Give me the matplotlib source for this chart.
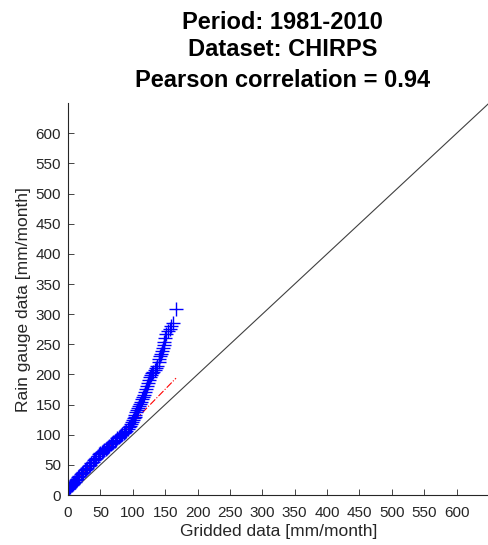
import numpy as np
import matplotlib.pyplot as plt

plt.rcParams['font.family'] = ['Liberation Sans', 'DejaVu Sans']

# quantiles (gridded vs rain gauge)
gridded = [0.0, 0.8, 1.7, 2.9, 3.8, 5.1, 6.0, 7.2, 8.1, 9.3, 10.4, 12.1, 13.8,
           15.9, 17.6, 19.8, 21.7, 23.9, 25.8, 28.1, 29.9, 32.2, 34.0, 36.1,
           37.9, 40.2, 42.1, 43.8, 46.0, 48.2, 50.1, 52.0, 53.9, 56.2, 58.0,
           60.1, 62.3, 64.0, 66.1, 68.0, 70.2, 72.1, 73.9, 76.0, 78.1, 80.2,
           82.0, 83.9, 85.8, 88.1, 90.0, 92.2, 94.0, 95.6, 97.1, 98.8, 100.2,
           101.5, 102.8, 104.1, 105.6, 107.0, 108.3, 109.7, 111.0, 112.6,
           114.1, 115.4, 117.0, 118.6, 120.1, 121.9, 123.4, 125.0, 126.6,
           128.3, 130.1, 132.0, 134.0, 136.2, 138.1, 140.0, 141.3, 142.6,
           143.8, 145.1, 146.4, 147.7, 148.9, 150.0, 151.2, 153.8, 156.9,
           159.7, 162.6, 166.8]
gauge = [10.0, 11.0, 12.0, 13.1, 14.3, 15.8, 17.0, 18.4, 19.6, 21.0, 22.4,
         24.6, 26.9, 29.4, 31.5, 34.1, 36.0, 38.6, 40.8, 43.4, 45.3, 47.9,
         49.9, 52.5, 54.8, 57.6, 60.0, 62.1, 65.0, 67.8, 69.9, 71.6, 73.1,
         75.0, 76.6, 78.3, 80.2, 81.8, 83.9, 85.6, 87.9, 90.1, 92.0, 94.1,
         96.3, 98.6, 100.2, 101.6, 103.1, 105.0, 107.0, 109.6, 112.4, 115.3,
         118.0, 121.4, 124.3, 127.1, 130.0, 133.2, 136.9, 140.3, 143.8,
         147.6, 151.0, 154.8, 158.6, 161.9, 166.3, 171.0, 175.2, 180.6,
         185.1, 190.0, 195.8, 199.4, 202.1, 204.8, 207.3, 211.0, 214.3,
         220.6, 225.1, 229.8, 234.0, 238.2, 243.1, 248.4, 253.5, 260.2,
         267.4, 271.8, 275.1, 280.3, 286.0, 308.2]

# reference line through quartiles
ref_slope = 1.1
ref_icpt = 10.4

fig = plt.figure(figsize=(4.89, 5.45), dpi=100)
ax = fig.add_axes([0.139, 0.0917, 0.861, 0.719])

x = np.array(gridded)
ax.plot([0, 650], [0, 650], color='#404040', lw=0.8)
ax.plot([x.min(), x.max()], [ref_icpt + ref_slope * x.min(), ref_icpt + ref_slope * x.max()],
        color='red', lw=0.8, ls='-.')
ax.plot(gridded, gauge, '+', color='blue', ms=10, mew=1.0)

ax.set_xlim(0, 650)
ax.set_ylim(0, 650)
ax.set_xticks(np.arange(0, 601, 50))
ax.set_yticks(np.arange(0, 601, 50))
ax.spines['top'].set_visible(False)
ax.spines['right'].set_visible(False)
for s in ['left', 'bottom']:
    ax.spines[s].set_color('#262626')
    ax.spines[s].set_linewidth(0.8)
ax.tick_params(direction='in', length=4, width=0.6, colors='#262626', labelsize=11)
ax.tick_params(axis='x', pad=8)
ax.tick_params(axis='y', pad=5)
ax.set_xlabel('Gridded data [mm/month]', fontsize=12.5, color='#262626', labelpad=3)
ax.set_ylabel('Rain gauge data [mm/month]', fontsize=12.5, color='#262626', labelpad=3)

fig.text(0.578, 0.958, 'Period: 1981-2010', ha='center', va='center',
         fontsize=17, fontweight='bold')
fig.text(0.578, 0.909, 'Dataset: CHIRPS', ha='center', va='center',
         fontsize=17, fontweight='bold')
fig.text(0.578, 0.853, 'Pearson correlation = 0.94', ha='center', va='center',
         fontsize=17, fontweight='bold')

fig.savefig('out.png', dpi=100)
